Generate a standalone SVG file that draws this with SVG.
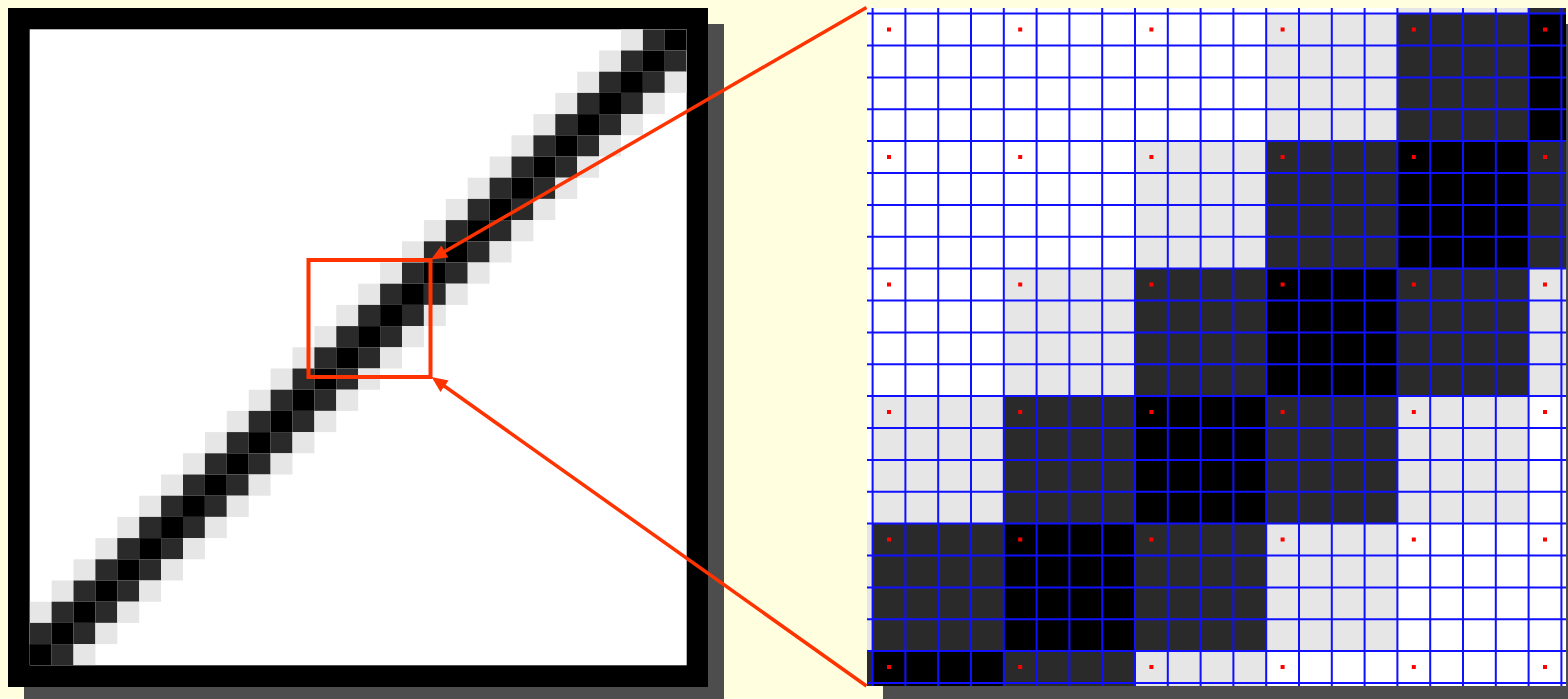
<svg xmlns="http://www.w3.org/2000/svg" xmlns:xlink="http://www.w3.org/1999/xlink" width="1568" height="699" viewBox="0 0 1568 699">
  <style>
    .shadow { fill: #4d4d4d; }
    .lt { fill: #e6e6e6; }
    .dk { fill: #2a2a2a; }
    .bk { fill: #000000; }
    .grid { stroke: #1010ff; stroke-width: 2; fill: none; }
    .dot { fill: #ff0000; }
    .hl { stroke: #ff3300; stroke-width: 4; fill: none; }
    .conn { stroke: #ff3300; stroke-width: 3.5; fill: none; }
  </style>
  <defs>
    <clipPath id="clipLeft"><rect x="29.7" y="29.3" width="657" height="636"/></clipPath>
    <clipPath id="clipRight"><rect x="867" y="8" width="699" height="678"/></clipPath>
    <g id="band">
      <rect class="lt" x="0" y="0" width="21.9" height="21.2"/>
      <rect class="dk" x="21.9" y="0" width="21.9" height="21.2"/>
      <rect class="bk" x="43.8" y="0" width="21.9" height="21.2"/>
      <rect class="dk" x="65.7" y="0" width="21.9" height="21.2"/>
      <rect class="lt" x="87.6" y="0" width="21.9" height="21.2"/>
    </g>
    <g id="bigband">
      <rect class="lt" x="0" y="0" width="131.2" height="127.5"/>
      <rect class="dk" x="131.2" y="0" width="131.2" height="127.5"/>
      <rect class="bk" x="262.4" y="0" width="131.2" height="127.5"/>
      <rect class="dk" x="393.6" y="0" width="131.2" height="127.5"/>
      <rect class="lt" x="524.8" y="0" width="131.2" height="127.5"/>
    </g>
    <marker id="arrow" markerUnits="userSpaceOnUse" markerWidth="18" markerHeight="16" refX="6" refY="7" orient="auto">
      <path d="M0,0 L16,7 L0,14 Z" fill="#ff3300"/>
    </marker>
  </defs>

  <rect x="0" y="0" width="1568" height="699" fill="#ffffe0"/>

  <g id="left-view">
    <rect class="shadow" x="24" y="24" width="700" height="679"/>
    <rect class="bk" x="8" y="8" width="700" height="679"/>
    <rect x="29.7" y="29.3" width="657" height="636" fill="#ffffff"/>
    <g clip-path="url(#clipLeft)">
      <use xlink:href="#band" href="#band" x="621.0" y="29.3"/>
      <use xlink:href="#band" href="#band" x="599.1" y="50.5"/>
      <use xlink:href="#band" href="#band" x="577.2" y="71.7"/>
      <use xlink:href="#band" href="#band" x="555.3" y="92.9"/>
      <use xlink:href="#band" href="#band" x="533.4" y="114.1"/>
      <use xlink:href="#band" href="#band" x="511.5" y="135.3"/>
      <use xlink:href="#band" href="#band" x="489.6" y="156.5"/>
      <use xlink:href="#band" href="#band" x="467.7" y="177.7"/>
      <use xlink:href="#band" href="#band" x="445.8" y="198.9"/>
      <use xlink:href="#band" href="#band" x="423.9" y="220.1"/>
      <use xlink:href="#band" href="#band" x="402.0" y="241.3"/>
      <use xlink:href="#band" href="#band" x="380.1" y="262.5"/>
      <use xlink:href="#band" href="#band" x="358.2" y="283.7"/>
      <use xlink:href="#band" href="#band" x="336.3" y="304.9"/>
      <use xlink:href="#band" href="#band" x="314.4" y="326.1"/>
      <use xlink:href="#band" href="#band" x="292.5" y="347.3"/>
      <use xlink:href="#band" href="#band" x="270.6" y="368.5"/>
      <use xlink:href="#band" href="#band" x="248.7" y="389.7"/>
      <use xlink:href="#band" href="#band" x="226.8" y="410.9"/>
      <use xlink:href="#band" href="#band" x="204.9" y="432.1"/>
      <use xlink:href="#band" href="#band" x="183.0" y="453.3"/>
      <use xlink:href="#band" href="#band" x="161.1" y="474.5"/>
      <use xlink:href="#band" href="#band" x="139.2" y="495.7"/>
      <use xlink:href="#band" href="#band" x="117.3" y="516.9"/>
      <use xlink:href="#band" href="#band" x="95.4" y="538.1"/>
      <use xlink:href="#band" href="#band" x="73.5" y="559.3"/>
      <use xlink:href="#band" href="#band" x="51.6" y="580.5"/>
      <use xlink:href="#band" href="#band" x="29.7" y="601.7"/>
      <use xlink:href="#band" href="#band" x="7.8" y="622.9"/>
      <use xlink:href="#band" href="#band" x="-14.1" y="644.1"/>
    </g>
  </g>

  <g id="zoom-rect">
    <rect class="hl" x="308.5" y="260" width="122" height="117"/>
  </g>

  <g id="right-view">
    <rect class="shadow" x="883" y="24" width="699" height="678"/>
    <rect x="867" y="8" width="699" height="678" fill="#ffffff"/>
    <g clip-path="url(#clipRight)">
      <use xlink:href="#bigband" href="#bigband" x="1397.4" y="-113.9"/>
      <use xlink:href="#bigband" href="#bigband" x="1266.2" y="13.6"/>
      <use xlink:href="#bigband" href="#bigband" x="1135.0" y="141.1"/>
      <use xlink:href="#bigband" href="#bigband" x="1003.8" y="268.6"/>
      <use xlink:href="#bigband" href="#bigband" x="872.6" y="396.1"/>
      <use xlink:href="#bigband" href="#bigband" x="741.4" y="523.6"/>
      <use xlink:href="#bigband" href="#bigband" x="610.2" y="651.1"/>
      <path class="grid" d="M872.6 8V686M905.4 8V686M938.2 8V686M971 8V686M1003.8 8V686M1036.6 8V686M1069.4 8V686M1102.2 8V686M1135 8V686M1167.8 8V686M1200.6 8V686M1233.4 8V686M1266.2 8V686M1299 8V686M1331.8 8V686M1364.6 8V686M1397.4 8V686M1430.2 8V686M1463 8V686M1495.8 8V686M1528.6 8V686M1561.4 8V686"/>
      <path class="grid" d="M867 13.6H1566M867 45.5H1566M867 77.4H1566M867 109.2H1566M867 141.1H1566M867 173H1566M867 204.9H1566M867 236.7H1566M867 268.6H1566M867 300.5H1566M867 332.4H1566M867 364.2H1566M867 396.1H1566M867 428H1566M867 459.9H1566M867 491.7H1566M867 523.6H1566M867 555.5H1566M867 587.4H1566M867 619.2H1566M867 651.1H1566M867 683H1566"/>
    </g>
    <g id="sample-dots">
      <rect class="dot" x="887" y="27.5" width="4" height="4"/>
      <rect class="dot" x="1018.2" y="27.5" width="4" height="4"/>
      <rect class="dot" x="1149.4" y="27.5" width="4" height="4"/>
      <rect class="dot" x="1280.6" y="27.5" width="4" height="4"/>
      <rect class="dot" x="1411.8" y="27.5" width="4" height="4"/>
      <rect class="dot" x="1543" y="27.5" width="4" height="4"/>
      <rect class="dot" x="887" y="155" width="4" height="4"/>
      <rect class="dot" x="1018.2" y="155" width="4" height="4"/>
      <rect class="dot" x="1149.4" y="155" width="4" height="4"/>
      <rect class="dot" x="1280.6" y="155" width="4" height="4"/>
      <rect class="dot" x="1411.8" y="155" width="4" height="4"/>
      <rect class="dot" x="1543" y="155" width="4" height="4"/>
      <rect class="dot" x="887" y="282.5" width="4" height="4"/>
      <rect class="dot" x="1018.2" y="282.5" width="4" height="4"/>
      <rect class="dot" x="1149.4" y="282.5" width="4" height="4"/>
      <rect class="dot" x="1280.6" y="282.5" width="4" height="4"/>
      <rect class="dot" x="1411.8" y="282.5" width="4" height="4"/>
      <rect class="dot" x="1543" y="282.5" width="4" height="4"/>
      <rect class="dot" x="887" y="410" width="4" height="4"/>
      <rect class="dot" x="1018.2" y="410" width="4" height="4"/>
      <rect class="dot" x="1149.4" y="410" width="4" height="4"/>
      <rect class="dot" x="1280.6" y="410" width="4" height="4"/>
      <rect class="dot" x="1411.8" y="410" width="4" height="4"/>
      <rect class="dot" x="1543" y="410" width="4" height="4"/>
      <rect class="dot" x="887" y="537.5" width="4" height="4"/>
      <rect class="dot" x="1018.2" y="537.5" width="4" height="4"/>
      <rect class="dot" x="1149.4" y="537.5" width="4" height="4"/>
      <rect class="dot" x="1280.6" y="537.5" width="4" height="4"/>
      <rect class="dot" x="1411.8" y="537.5" width="4" height="4"/>
      <rect class="dot" x="1543" y="537.5" width="4" height="4"/>
      <rect class="dot" x="887" y="665" width="4" height="4"/>
      <rect class="dot" x="1018.2" y="665" width="4" height="4"/>
      <rect class="dot" x="1149.4" y="665" width="4" height="4"/>
      <rect class="dot" x="1280.6" y="665" width="4" height="4"/>
      <rect class="dot" x="1411.8" y="665" width="4" height="4"/>
      <rect class="dot" x="1543" y="665" width="4" height="4"/>
    </g>
  </g>

  <g id="connectors">
    <line class="conn" x1="866.5" y1="7.5" x2="439.7" y2="254.5" marker-end="url(#arrow)"/>
    <line class="conn" x1="866.5" y1="686" x2="439.7" y2="382.8" marker-end="url(#arrow)"/>
  </g>
</svg>
